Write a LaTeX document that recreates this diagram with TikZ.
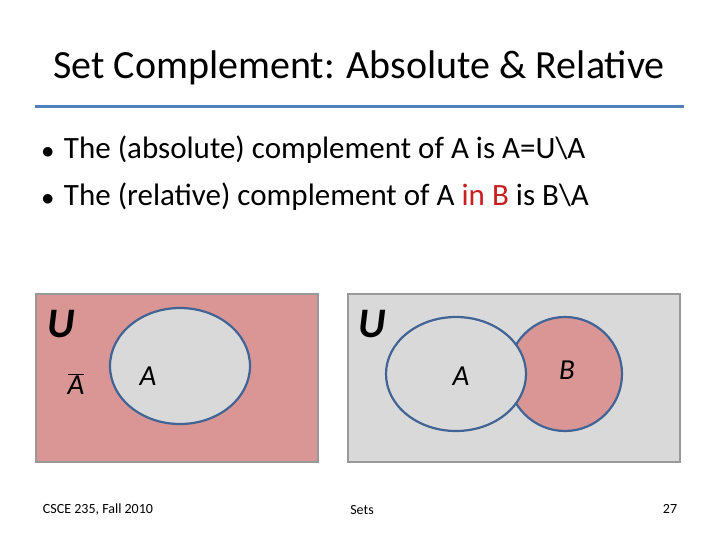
\documentclass[tikz,border=0pt]{standalone}
\usetikzlibrary{shapes.geometric}
\usepackage{fontspec}
\setmainfont{Carlito}
\definecolor{pinkf}{RGB}{217,150,148}
\definecolor{greyf}{RGB}{217,217,217}
\definecolor{edgeb}{RGB}{65,100,150}
\definecolor{lineb}{RGB}{79,129,189}
\definecolor{redt}{RGB}{200,30,30}
\begin{document}
\begin{tikzpicture}[x=1pt,y=-1pt,
  box/.style={draw=gray!80,line width=2pt},
  setc/.style={draw=edgeb,line width=2.2pt},
  lbl/.style={font=\fontsize{29}{31}\selectfont\itshape},
  ulbl/.style={font=\fontsize{42}{44}\selectfont\bfseries\itshape},
  foot/.style={font=\fontsize{14}{16}\selectfont}]
\useasboundingbox[fill=white] (0,0) rectangle (720,540);
\node (title) at (359,68) {\fontsize{40}{44}\selectfont Set Complement: Absolute \& Relative};
\draw[lineb,line width=3pt] (35,107) coordinate (l1) -- (684,107) coordinate (l2);
\node[anchor=west] (b1) at (38,150) {\fontsize{31}{34}\selectfont $\bullet$\hspace{10pt}The (absolute) complement of A is A=U\textbackslash A};
\node[anchor=west] (b2) at (38,197) {\fontsize{31}{34}\selectfont $\bullet$\hspace{10pt}The (relative) complement of A {\color{redt}in B} is B\textbackslash A};
% left
\node[box,fill=pinkf,minimum width=282pt,minimum height=168pt,inner sep=0pt] (L) at (177,378) {};
\node[setc,fill=greyf,ellipse,minimum width=140pt,minimum height=116pt,inner sep=0pt] (LA) at (180,366) {};
\node[ulbl] (LU) at (61,324) {U};
\node[lbl] (LAb) at (76,384) {$\overline{\mbox{A}}$};
\node[lbl] (LAl) at (148,376) {A};
% right
\node[box,fill=greyf,minimum width=332pt,minimum height=168pt,inner sep=0pt] (R) at (514,378) {};
\draw[setc,fill=pinkf] (565,374) circle[x radius=57,y radius=57];
\draw[setc,fill=greyf] (456,374) circle[x radius=70,y radius=57];
\node[ulbl] (RU) at (372,324) {U};
\node[lbl] (RA) at (461,376) {A};
\node[lbl] (RB) at (567,370) {B};
% footer
\node[foot] (f1) at (98,510) {CSCE 235, Fall 2010};
\node[foot] (f2) at (362,510) {Sets};
\node[foot] (f3) at (670,509) {27};
\end{tikzpicture}
\end{document}
